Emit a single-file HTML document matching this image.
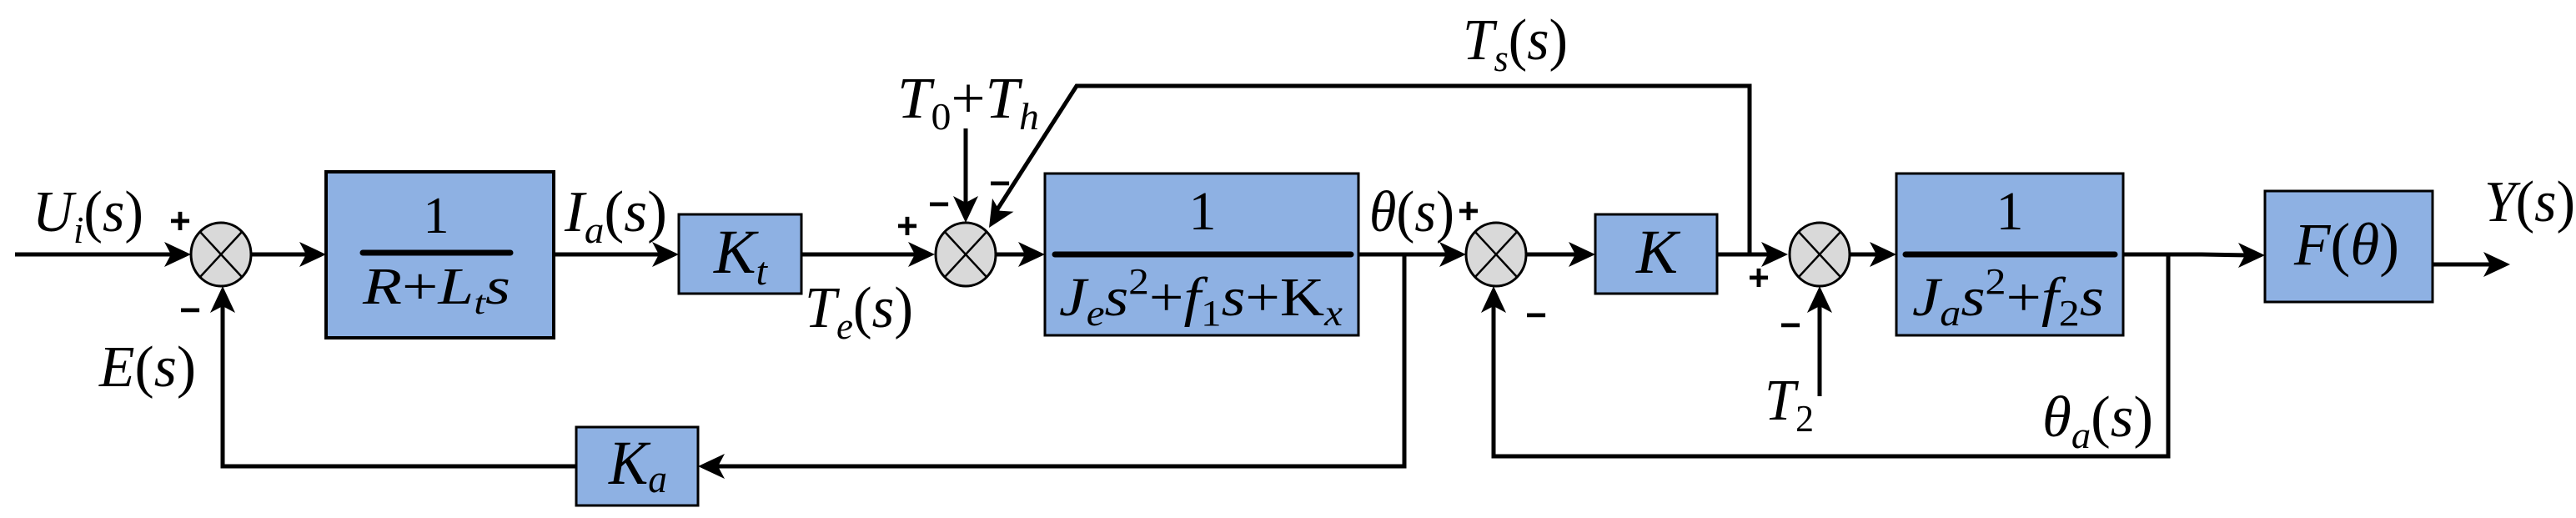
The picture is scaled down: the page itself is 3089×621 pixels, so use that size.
<!DOCTYPE html>
<html><head><meta charset="utf-8"><style>
html,body{margin:0;padding:0;background:#fff;}
svg{display:block;}
text{font-family:"Liberation Serif",serif;fill:#000;}
.i{font-style:italic;}
.sg{font-family:"Liberation Sans",sans-serif;font-weight:bold;font-size:44px;}
</style></head><body>
<svg width="3089" height="621" viewBox="0 0 3089 621" xmlns="http://www.w3.org/2000/svg">
<g fill="#8EB1E3" stroke="#000">
<rect x="391" y="206" width="273" height="199" stroke-width="4"/>
<rect x="814" y="257" width="147" height="95" stroke-width="3"/>
<rect x="1253" y="208" width="376" height="194" stroke-width="3"/>
<rect x="1913" y="257" width="146" height="95" stroke-width="3"/>
<rect x="2274" y="208" width="272" height="194" stroke-width="3"/>
<rect x="2716" y="229" width="201" height="133" stroke-width="3"/>
<rect x="691" y="512" width="146" height="94" stroke-width="3"/>
</g>
<g stroke="#000" stroke-width="7" stroke-linecap="round">
<line x1="435" y1="303" x2="612" y2="303"/>
<line x1="1265" y1="305" x2="1620" y2="305"/>
<line x1="2285" y1="305" x2="2536" y2="305"/>
</g>
<g stroke="#000" stroke-width="5" fill="none">
<line x1="18" y1="305" x2="210" y2="305"/>
<line x1="302" y1="305" x2="372" y2="305"/>
<line x1="664" y1="305" x2="795" y2="305"/>
<line x1="961" y1="305" x2="1102" y2="305"/>
<line x1="1194" y1="305" x2="1234" y2="305"/>
<line x1="1629" y1="305" x2="1739" y2="305"/>
<line x1="1831" y1="305" x2="1894" y2="305"/>
<line x1="2059" y1="305" x2="2125" y2="305"/>
<line x1="2219" y1="305" x2="2255" y2="305"/>
<polyline points="2546,305 2640,305 2697,306"/>
<line x1="2917" y1="317" x2="2990" y2="317"/>
<polyline points="1684,305 1684,559 856,559"/>
<polyline points="691,559 267,559 267,362"/>
<polyline points="1196,251 1291,103 2098,103 2098,305"/>
<line x1="1158" y1="154" x2="1158" y2="250"/>
<polyline points="2600,305 2600,547 1791,547 1791,362"/>
<line x1="2182" y1="475" x2="2182" y2="362"/>
</g>
<g fill="#000">
<polygon points="229,305 197,290 205,305 197,320"/>
<polygon points="391,305 359,290 367,305 359,320"/>
<polygon points="814,305 782,290 790,305 782,320"/>
<polygon points="1121,305 1089,290 1097,305 1089,320"/>
<polygon points="1253,305 1221,290 1229,305 1221,320"/>
<polygon points="1758,305 1726,290 1734,305 1726,320"/>
<polygon points="1913,305 1881,290 1889,305 1881,320"/>
<polygon points="2144,305 2112,290 2120,305 2112,320"/>
<polygon points="2274,305 2242,290 2250,305 2242,320"/>
<polygon points="2716,306 2684,291 2692,306 2684,321"/>
<polygon points="3010,317 2978,302 2986,317 2978,332"/>
<polygon points="837,559 869,544 861,559 869,574"/>
<polygon points="267,343 252,375 267,367 282,375"/>
<polygon points="1791,343 1776,375 1791,367 1806,375"/>
<polygon points="2182,343 2167,375 2182,367 2197,375"/>
<polygon points="1158,267 1143,235 1158,243 1173,235"/>
<polygon points="1186,273 1215.5,253.7 1198.6,252.6 1190,237.9"/>
</g>
<g fill="#d9d9d9" stroke="#000" stroke-width="3">
<ellipse cx="265" cy="305" rx="36" ry="38"/>
<ellipse cx="1158" cy="305" rx="36" ry="38"/>
<ellipse cx="1794" cy="305" rx="36" ry="38"/>
<ellipse cx="2182" cy="305" rx="36" ry="38"/>
</g>
<g stroke="#000" stroke-width="2.5">
<line x1="240" y1="278" x2="290" y2="332"/><line x1="290" y1="278" x2="240" y2="332"/>
<line x1="1133" y1="278" x2="1183" y2="332"/><line x1="1183" y1="278" x2="1133" y2="332"/>
<line x1="1769" y1="278" x2="1819" y2="332"/><line x1="1819" y1="278" x2="1769" y2="332"/>
<line x1="2157" y1="278" x2="2207" y2="332"/><line x1="2207" y1="278" x2="2157" y2="332"/>
</g>
<g class="sg" text-anchor="middle" dominant-baseline="central">
<text class="sg" x="216" y="265">+</text>
<text class="sg" x="228" y="372">−</text>
<text class="sg" x="1088" y="271">+</text>
<text class="sg" x="1126" y="245">−</text>
<text class="sg" x="1199" y="220">−</text>
<text class="sg" x="1761" y="253">+</text>
<text class="sg" x="1842" y="378">−</text>
<text class="sg" x="2109" y="333">+</text>
<text class="sg" x="2147" y="390">−</text>
</g>
<g font-size="70">
<text class="i" x="39" y="277" textLength="133" lengthAdjust="spacingAndGlyphs">U<tspan font-size="46" dy="14">i</tspan><tspan dy="-14" font-style="normal">(</tspan>s<tspan font-style="normal">)</tspan></text>
<text class="i" x="677" y="277" textLength="123" lengthAdjust="spacingAndGlyphs">I<tspan font-size="46" dy="14">a</tspan><tspan dy="-14" font-style="normal">(</tspan>s<tspan font-style="normal">)</tspan></text>
<text class="i" x="965" y="392" textLength="130" lengthAdjust="spacingAndGlyphs">T<tspan font-size="46" dy="14">e</tspan><tspan dy="-14" font-style="normal">(</tspan>s<tspan font-style="normal">)</tspan></text>
<text class="i" x="119" y="463" textLength="116" lengthAdjust="spacingAndGlyphs">E<tspan font-style="normal">(</tspan>s<tspan font-style="normal">)</tspan></text>
<text class="i" x="1076" y="141" textLength="170" lengthAdjust="spacingAndGlyphs">T<tspan font-size="46" dy="14" font-style="normal">0</tspan><tspan dy="-14" font-style="normal">+</tspan>T<tspan font-size="46" dy="14">h</tspan></text>
<text class="i" x="1754" y="71" textLength="126" lengthAdjust="spacingAndGlyphs">T<tspan font-size="46" dy="14">s</tspan><tspan dy="-14" font-style="normal">(</tspan>s<tspan font-style="normal">)</tspan></text>
<text class="i" x="1642" y="277" textLength="102" lengthAdjust="spacingAndGlyphs">θ<tspan font-style="normal">(</tspan>s<tspan font-style="normal">)</tspan></text>
<text class="i" x="2116" y="503" textLength="59" lengthAdjust="spacingAndGlyphs">T<tspan font-size="46" dy="14" font-style="normal">2</tspan></text>
<text class="i" x="2449" y="523" textLength="133" lengthAdjust="spacingAndGlyphs">θ<tspan font-size="46" dy="14">a</tspan><tspan dy="-14" font-style="normal">(</tspan>s<tspan font-style="normal">)</tspan></text>
<text class="i" x="2979" y="265" textLength="109" lengthAdjust="spacingAndGlyphs">Y<tspan font-style="normal">(</tspan>s<tspan font-style="normal">)</tspan></text>
<text x="523" y="279" text-anchor="middle" font-size="62">1</text>
<text class="i" x="435" y="364" font-size="62" textLength="177" lengthAdjust="spacingAndGlyphs">R<tspan font-style="normal">+</tspan>L<tspan font-size="40" dy="12">t</tspan><tspan dy="-12">s</tspan></text>
<text class="i" x="856" y="327" font-size="75" textLength="64" lengthAdjust="spacingAndGlyphs">K<tspan font-size="48" dy="14">t</tspan></text>
<text x="1442" y="275" text-anchor="middle" font-size="66">1</text>
<text class="i" x="1270" y="378" font-size="66" textLength="340" lengthAdjust="spacingAndGlyphs">J<tspan font-size="44" dy="12">e</tspan><tspan dy="-12">s</tspan><tspan font-size="44" dy="-26" font-style="normal">2</tspan><tspan dy="26" font-style="normal">+</tspan>f<tspan font-size="44" dy="12" font-style="normal">1</tspan><tspan dy="-12">s</tspan><tspan font-style="normal">+K</tspan><tspan font-size="44" dy="12">x</tspan></text>
<text class="i" x="1962" y="327" font-size="75" textLength="50" lengthAdjust="spacingAndGlyphs">K</text>
<text x="2410" y="275" text-anchor="middle" font-size="66">1</text>
<text class="i" x="2293" y="378" font-size="66" textLength="230" lengthAdjust="spacingAndGlyphs">J<tspan font-size="44" dy="12">a</tspan><tspan dy="-12">s</tspan><tspan font-size="44" dy="-26" font-style="normal">2</tspan><tspan dy="26" font-style="normal">+</tspan>f<tspan font-size="44" dy="12" font-style="normal">2</tspan><tspan dy="-12">s</tspan></text>
<text class="i" x="2751" y="317" font-size="72" textLength="126" lengthAdjust="spacingAndGlyphs">F<tspan font-style="normal">(</tspan>θ<tspan font-style="normal">)</tspan></text>
<text class="i" x="730" y="580" font-size="75" textLength="70" lengthAdjust="spacingAndGlyphs">K<tspan font-size="48" dy="10">a</tspan></text>
</g>
</svg>
</body></html>
